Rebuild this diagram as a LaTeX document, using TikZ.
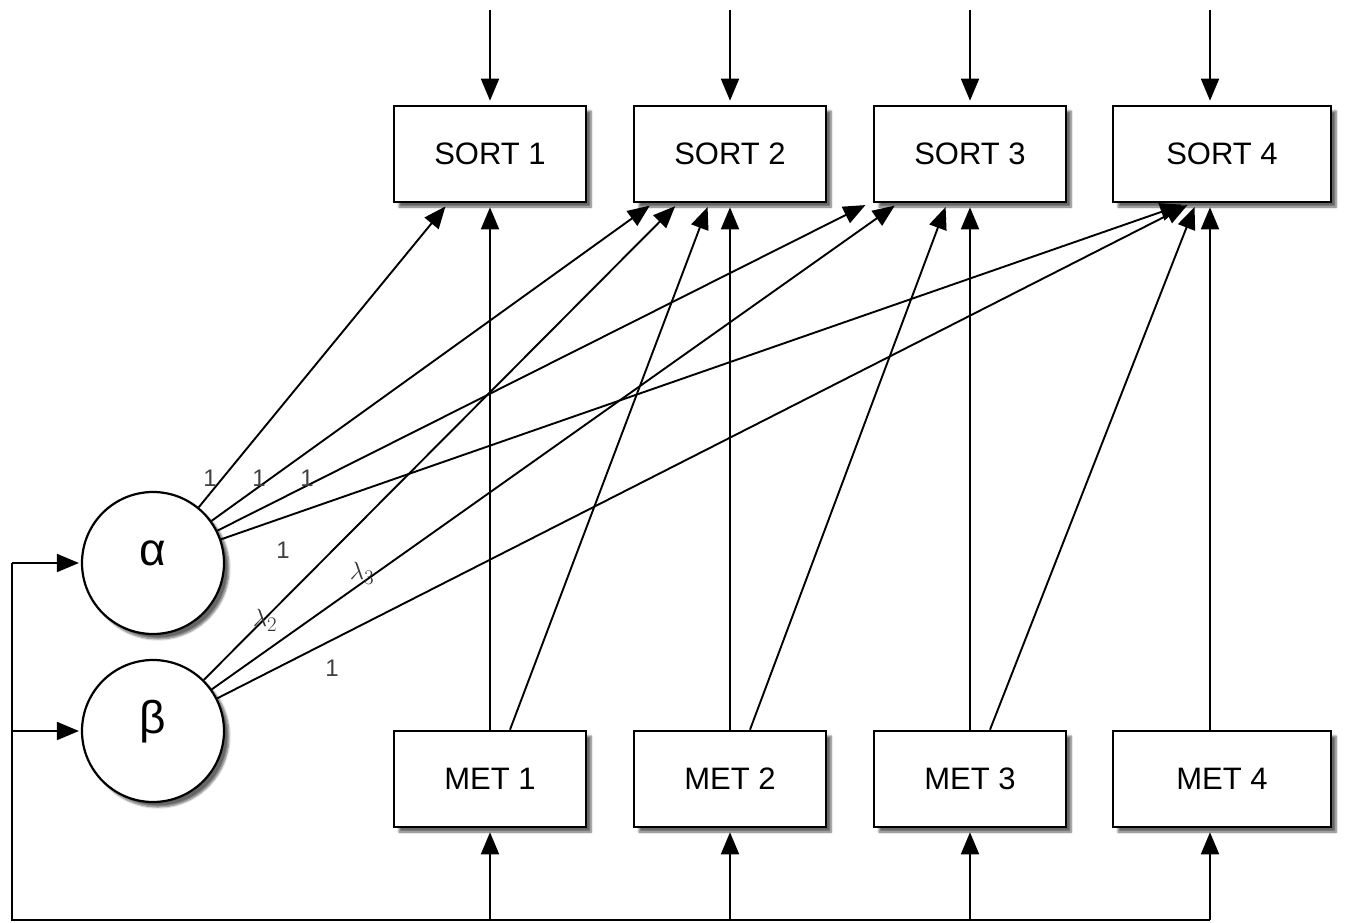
\documentclass[tikz,border=0pt]{standalone}
\usepackage{fontspec}
\setmainfont{Liberation Sans}
\usetikzlibrary{arrows.meta,shadows.blur}
\begin{document}
\begin{tikzpicture}[x=1pt,y=-1pt,
  line width=1.9pt,
  arr/.style={-{Triangle[length=22pt,width=18pt]}, shorten >=4pt},
  sh/.style={blur shadow={shadow xshift=5pt, shadow yshift=-5pt, shadow blur steps=6, shadow opacity=60}},
  box/.style={draw, line width=2.6pt, fill=white, minimum width=192pt, minimum height=96pt, inner sep=0pt, font=\fontsize{31}{36}\selectfont, sh},
  widebox/.style={box, minimum width=218pt},
  lat/.style={circle, draw, line width=2.2pt, fill=white, minimum size=142pt, inner sep=0pt, font=\fontsize{46}{50}\selectfont, text height=23pt, text depth=19pt, sh},
  lab/.style={font=\fontsize{24}{28}\selectfont, text=black!75, inner sep=0pt},
  lam/.style={font=\fontsize{28}{30}\selectfont, text=black!80, inner sep=0pt}
]
\useasboundingbox (0,0) rectangle (1345,923);

% boxes
\node[box] (s1) at (490,154) {SORT 1};
\node[box] (s2) at (730,154) {SORT 2};
\node[box] (s3) at (970,154) {SORT 3};
\node[widebox] (s4) at (1222,154) {SORT 4};
\node[box] (m1) at (490,779) {MET 1};
\node[box] (m2) at (730,779) {MET 2};
\node[box] (m3) at (970,779) {MET 3};
\node[widebox] (m4) at (1222,779) {MET 4};

% latent circles
\node[lat] (a) at (153,563) {α};
\node[lat] (b) at (153,731) {β};

% free-end coordinates
\coordinate (t1) at (490,10);
\coordinate (t2) at (730,10);
\coordinate (t3) at (970,10);
\coordinate (t4) at (1210,10);
\coordinate (bm1) at (490,920);
\coordinate (bm2) at (730,920);
\coordinate (bm3) at (970,920);
\coordinate (bm4) at (1210,920);
\coordinate (fb) at (12,920);
\coordinate (fa) at (12,563);
\coordinate (fbt) at (12,731);

% top inputs
\draw[arr] (t1) -- (s1.north);
\draw[arr] (t2) -- (s2.north);
\draw[arr] (t3) -- (s3.north);
\draw[arr] (t4) -- ([xshift=-12pt]s4.north);

% bottom inputs and feedback line
\draw (bm4) -- (fb) -- (fa);
\draw[arr] (bm1) -- (m1.south);
\draw[arr] (bm2) -- (m2.south);
\draw[arr] (bm3) -- (m3.south);
\draw[arr] (bm4) -- ([xshift=-12pt]m4.south);
\draw[arr, shorten >=2pt] (fa) -- (a);
\draw[arr, shorten >=2pt] (fbt) -- (b);

% MET -> SORT
\draw[arr] (m1.north) -- (s1.south);
\draw[arr] ([xshift=20pt]m1.north) -- ([xshift=-21pt]s2.south);
\draw[arr] (m2.north) -- (s2.south);
\draw[arr] ([xshift=20pt]m2.north) -- ([xshift=-23pt]s3.south);
\draw[arr] (m3.north) -- (s3.south);
\draw[arr] ([xshift=20pt]m3.north) -- ([xshift=-26pt]s4.south);
\draw[arr] ([xshift=-12pt]m4.north) -- ([xshift=-12pt]s4.south);

% alpha -> SORT
\draw[arr] (a) -- ([xshift=-42pt]s1.south);
\draw[arr] (a) -- ([xshift=-77pt]s2.south);
\draw[arr] (a) -- ([xshift=-101pt]s3.south);
\draw[arr] (a) -- ([xshift=-36pt]s4.south);

% beta -> SORT
\draw[arr] (b) -- ([xshift=-52pt]s2.south);
\draw[arr] (b) -- ([xshift=-72pt]s3.south);
\draw[arr] (b) -- ([xshift=-31pt]s4.south);

% loadings
\node[lab] (l1) at (210,478) {1};
\node[lab] (l2) at (259,478) {1};
\node[lab] (l3) at (307,478) {1};
\node[lab] (l4) at (283,550) {1};
\node[lab] (l5) at (332,668) {1};
\node[lam] (l6) at (265,620) {$\lambda_2$};
\node[lam] (l7) at (362,573) {$\lambda_3$};
\end{tikzpicture}
\end{document}
